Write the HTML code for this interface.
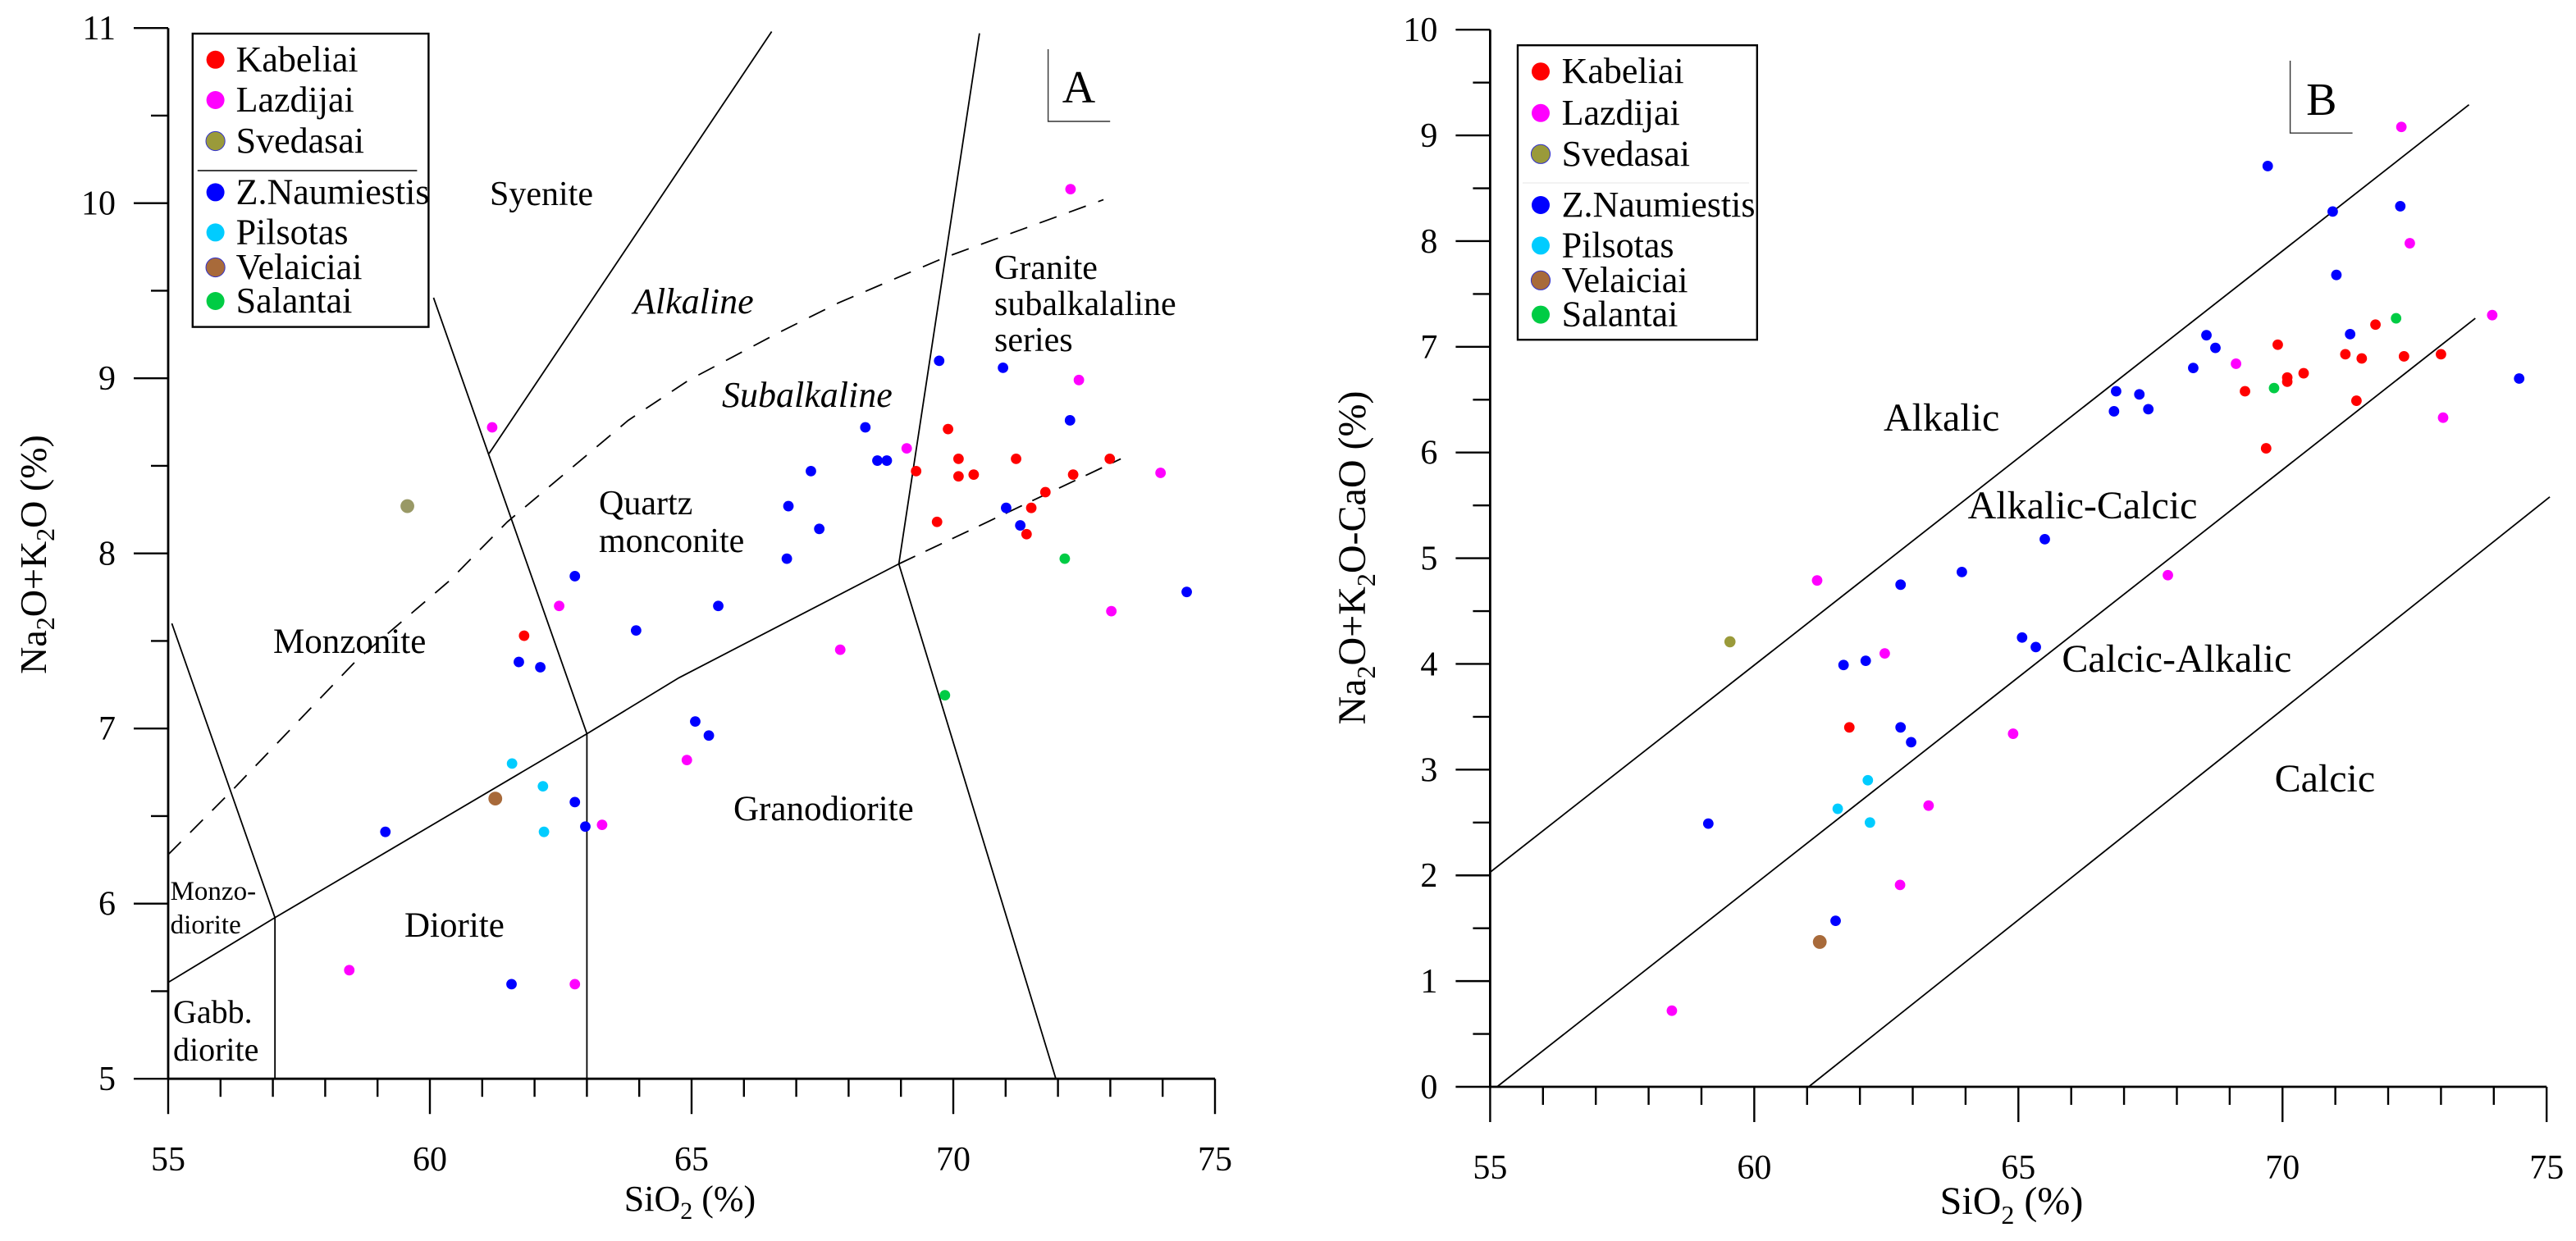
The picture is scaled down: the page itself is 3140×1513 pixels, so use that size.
<!DOCTYPE html>
<html><head><meta charset="utf-8"><style>
html,body{margin:0;padding:0;background:#fff;}
svg{display:block;font-family:"Liberation Serif","DejaVu Serif",serif;}
svg text{font-family:"Liberation Serif","DejaVu Serif",serif !important;fill:#000;}
</style></head><body>
<svg id="fig" xmlns="http://www.w3.org/2000/svg" width="3140" height="1513" viewBox="0 0 1570 756.5" font-family="Liberation Serif, DejaVu Serif, serif">
<rect width="1570" height="756.5" fill="#fff"/>
<g id="panelA"></g>
<g id="panelB"></g>
</svg>
<script>
// ---------- DATA: Panel A (SiO2 vs Na2O+K2O) ----------
const seriesNames = ["Kabeliai","Lazdijai","Svedasai","Z.Naumiestis","Pilsotas","Velaiciai","Salantai"];
const seriesColors = ["#ff0000","#ff00ff","#9a9a3a","#0000ff","#00ccff","#a86a3a","#00cc44"];
const aKabeliaiX = [69.90,70.10,69.29,70.10,70.39,71.20,72.99,72.29,71.76,71.49,71.40,69.69,61.80];
const aKabeliaiY = [8.71,8.54,8.47,8.44,8.45,8.54,8.54,8.45,8.35,8.26,8.11,8.18,7.53];
const aLazdijaiX = [72.24,72.40,69.11,73.96,61.19,62.47,64.91,63.29,58.46,62.77,67.84,73.02];
const aLazdijaiY = [10.08,8.99,8.60,8.46,8.72,7.70,6.82,6.45,5.62,5.54,7.45,7.67];
const aSvedasaiX = [59.57];
const aSvedasaiY = [8.27];
const aNaumX = [69.73,70.95,72.23,68.32,68.55,68.73,67.28,66.85,67.44,66.82,71.01,71.28,62.77,65.51,63.94,61.70,62.11,65.07,65.33,62.77,62.97,59.15,61.56,74.46];
const aNaumY = [9.10,9.06,8.76,8.72,8.53,8.53,8.47,8.27,8.14,7.97,8.26,8.16,7.87,7.70,7.56,7.38,7.35,7.04,6.96,6.58,6.44,6.41,5.54,7.78];
const aPilsotasX = [61.57,62.16,62.18];
const aPilsotasY = [6.80,6.67,6.41];
const aVelaiciaiX = [61.25];
const aVelaiciaiY = [6.60];
const aSalantaiX = [72.13,69.84];
const aSalantaiY = [7.97,7.19];
const aXTicks = [55,60,65,70,75];
const aYTicks = [5,6,7,8,9,10,11];

// ---------- DATA: Panel B (SiO2 vs Na2O+K2O-CaO) ----------
const bKabeliaiX = [71.76,71.19,71.50,72.30,73.00,69.91,70.40,70.09,70.09,69.29,71.40,69.69,61.80];
const bKabeliaiY = [7.21,6.93,6.89,6.91,6.93,7.02,6.75,6.71,6.67,6.58,6.49,6.04,3.40];
const bLazdijaiX = [72.25,72.41,73.97,69.12,73.04,67.83,61.19,62.47,63.30,62.76,58.44,64.90];
const bLazdijaiY = [9.08,7.98,7.30,6.84,6.33,4.84,4.79,4.10,2.66,1.91,0.72,3.34];
const bSvedasaiX = [59.54];
const bSvedasaiY = [4.21];
const bNaumX = [69.72,70.95,72.23,71.02,71.28,68.56,68.73,68.31,66.85,67.29,66.81,67.46,74.48,65.50,63.93,65.07,65.33,62.77,61.69,62.11,62.77,62.97,59.13,61.54];
const bNaumY = [8.71,8.28,8.33,7.68,7.12,7.11,6.99,6.80,6.58,6.55,6.39,6.41,6.70,5.18,4.87,4.25,4.16,4.75,3.99,4.03,3.40,3.26,2.49,1.57];
const bPilsotasX = [62.15,61.58,62.19];
const bPilsotasY = [2.90,2.63,2.50];
const bVelaiciaiX = [61.24];
const bVelaiciaiY = [1.37];
const bSalantaiX = [72.15,69.84];
const bSalantaiY = [7.27,6.61];
const bXTicks = [55,60,65,70,75];
const bYTicks = [0,1,2,3,4,5,6,7,8,9,10];

const NS = "http://www.w3.org/2000/svg";
const FONT = "Liberation Serif, DejaVu Serif, serif";
function mk(parent, tag, attrs, text){
  const e = document.createElementNS(NS, tag);
  for (const k in attrs) e.setAttribute(k, attrs[k]);
  if (tag === "text") e.setAttribute("font-family", FONT);
  if (text !== undefined) e.textContent = text;
  parent.appendChild(e);
  return e;
}

const axA = {x0:55,x1:75,px0:102.5,px1:740.5,y0:5,y1:11,py0:657.6,py1:17.1};
const axB = {x0:55,x1:75,px0:908.2,px1:1552.1,y0:0,y1:10,py0:662.5,py1:18.1};
function sx(ax,v){return ax.px0+(v-ax.x0)*(ax.px1-ax.px0)/(ax.x1-ax.x0);}
function sy(ax,v){return ax.py0+(v-ax.y0)*(ax.py1-ax.py0)/(ax.y1-ax.y0);}

function drawAxes(g, ax, xTicks, yTicks, minorYStep, minorXStep){
  let e;
  e = mk(g,"line",{x1:ax.px0,y1:ax.py0,x2:ax.px0,y2:ax.py1,stroke:"#000","stroke-width":1.4});
   
  e = mk(g,"line",{x1:ax.px0,y1:ax.py0,x2:ax.px1,y2:ax.py0,stroke:"#000","stroke-width":1.4});
   
  for (let v=ax.y0; v<=ax.y1+1e-6; v+=minorYStep){
    const y=sy(ax,v);
    const major = Math.abs(v-Math.round(v))<1e-6;
    const t = mk(g,"line",{x1:ax.px0-(major?21:10.5),y1:y,x2:ax.px0,y2:y,stroke:"#000","stroke-width":1.2});
     
  }
  yTicks.forEach(v=>{
    const t = mk(g,"text",{x:ax.px0-32,y:sy(ax,v)+7,"font-size":21,"text-anchor":"end"},String(v));
     
  });
  for (let v=ax.x0; v<=ax.x1+1e-6; v+=minorXStep){
    const x=sx(ax,v);
    const major = Math.abs(v/5-Math.round(v/5))<1e-6;
    const t = mk(g,"line",{x1:x,y1:ax.py0,x2:x,y2:ax.py0+(major?21.5:11),stroke:"#000","stroke-width":1.2});
     
  }
  xTicks.forEach(v=>{
    const t = mk(g,"text",{x:sx(ax,v),y:ax.py0+56,"font-size":21,"text-anchor":"middle"},String(v));
     
  });
}

function drawLine(g, ax, pts, name, dash, w){
  const d = pts.map((p,i)=>(i?"L":"M")+sx(ax,p[0]).toFixed(2)+","+sy(ax,p[1]).toFixed(2)).join(" ");
  const e = mk(g,"path",{d:d,fill:"none",stroke:"#000","stroke-width":w||0.9});
  if (dash) e.setAttribute("stroke-dasharray",dash);
  
  
}

function drawPoints(g, ax, xs, ys, color, r, name){
  for (let i=0;i<xs.length;i++){
    const c = mk(g,"circle",{cx:sx(ax,xs[i]),cy:sy(ax,ys[i]),r:r,fill:color});
    
    
  }
}

function drawLegend(g, box, dotX, textX, ys, sep, sepColor){
  const r = mk(g,"rect",{x:box[0],y:box[1],width:box[2]-box[0],height:box[3]-box[1],fill:"#fff",stroke:"#000","stroke-width":1.2});
   
  const s = mk(g,"line",{x1:sep[0],y1:sep[2],x2:sep[1],y2:sep[2],stroke:sepColor,"stroke-width":0.8});
   
  seriesNames.forEach((n,i)=>{
    const big = (i===2||i===5);
    const c = mk(g,"circle",{cx:dotX,cy:ys[i],r:big?5.8:5.5,fill:seriesColors[i]});
    if (big){c.setAttribute("stroke","#3333cc");c.setAttribute("stroke-width","0.5");}
    
    
    const t = mk(g,"text",{x:textX,y:ys[i]+7,"font-size":22},n);
    
    
  });
}

function label(g, x, y, str, size, name, extra){
  const t = mk(g,"text",Object.assign({x:x,y:y,"font-size":size},extra||{}),str);
  
  
  return t;
}

// ---------- Panel A ----------
const gA = document.getElementById("panelA");
drawAxes(gA, axA, aXTicks, aYTicks, 0.5, 1);
drawLine(gA, axA, [[55.07,7.60],[57.04,5.92]], "boundary-monzodiorite");
drawLine(gA, axA, [[57.04,5.92],[57.04,5.0]], "boundary-gabbro-diorite");
drawLine(gA, axA, [[55,5.55],[57.04,5.92],[63,6.97],[64.76,7.29],[68.96,7.94]], "boundary-lower");
drawLine(gA, axA, [[68.96,7.94],[73.2,8.54]], "boundary-lower-dashed", "11,7");
drawLine(gA, axA, [[63,6.97],[63,5.0]], "boundary-diorite-granodiorite");
drawLine(gA, axA, [[60.07,9.46],[63,6.97]], "boundary-monzonite");
drawLine(gA, axA, [[61.13,8.57],[66.53,10.98]], "boundary-syenite");
drawLine(gA, axA, [[68.96,7.94],[70.50,10.97]], "boundary-granite-upper");
drawLine(gA, axA, [[68.96,7.94],[71.96,5.0]], "boundary-granite-lower");
drawLine(gA, axA, [[55,6.28],[56.2,6.64],[58.6,7.39],[60.36,7.84],[61.48,8.18],[63.79,8.76],[64.95,8.99],[66.66,9.26],[67.8,9.43],[69.84,9.69],[72.87,10.02]], "alkaline-subalkaline-divider", "11,8", 0.9);

label(gA,298.5,125,"Syenite",21,"region-syenite");
label(gA,386,191,"Alkaline",22,"region-alkaline",{"font-style":"italic"});
label(gA,440,248,"Subalkaline",22,"region-subalkaline",{"font-style":"italic"});
label(gA,606,170,"Granite",21,"region-granite");
label(gA,606,192,"subalkalaline",21,"region-granite-line2");
label(gA,606,214,"series",21,"region-granite-line3");
label(gA,365,313.5,"Quartz",21,"region-quartz");
label(gA,365,336.5,"monconite",21,"region-quartz-line2");
label(gA,166.5,398,"Monzonite",21.5,"region-monzonite");
label(gA,103.8,548.5,"Monzo-",16.5,"region-monzodiorite");
label(gA,103.8,569,"diorite",16.5,"region-monzodiorite-line2");
label(gA,105.5,623.5,"Gabb.",20,"region-gabbro");
label(gA,105.5,646.5,"diorite",20,"region-gabbro-line2");
label(gA,246.5,571,"Diorite",21.5,"region-diorite");
label(gA,447,500,"Granodiorite",21.5,"region-granodiorite");
let e;
e = mk(gA,"path",{d:"M638.8,30 L638.8,74 L676.6,74",fill:"none",stroke:"#333","stroke-width":0.7});
 
label(gA,657.5,62.5,"A",28,"panel-label-a",{"text-anchor":"middle"});
const xtA = label(gA,420.5,738,"",22,"x-axis-title",{"text-anchor":"middle"});
xtA.innerHTML = 'SiO<tspan font-size="15" dy="5">2</tspan><tspan dy="-5"> (%)</tspan>';
const ytA = label(gA,0,0,"",23,"y-axis-title",{"text-anchor":"middle",transform:"translate(28,338) rotate(-90)"});
ytA.innerHTML = 'Na<tspan font-size="16" dy="5">2</tspan><tspan dy="-5">O+K</tspan><tspan font-size="16" dy="5">2</tspan><tspan dy="-5">O (%)</tspan>';

drawPoints(gA, axA, aKabeliaiX, aKabeliaiY, seriesColors[0], 3.2, "point-kabeliai");
drawPoints(gA, axA, aLazdijaiX, aLazdijaiY, seriesColors[1], 3.2, "point-lazdijai");
drawPoints(gA, axA, aSvedasaiX, aSvedasaiY, "#999966", 4.2, "point-svedasai");
drawPoints(gA, axA, aNaumX, aNaumY, seriesColors[3], 3.2, "point-z-naumiestis");
drawPoints(gA, axA, aPilsotasX, aPilsotasY, seriesColors[4], 3.2, "point-pilsotas");
drawPoints(gA, axA, aVelaiciaiX, aVelaiciaiY, seriesColors[5], 4.2, "point-velaiciai");
drawPoints(gA, axA, aSalantaiX, aSalantaiY, seriesColors[6], 3.2, "point-salantai");
drawLegend(gA,[117.4,20.5,261.2,199.3],131.3,143.8,[36.4,61,86,117.2,141.7,163,183.5],[120.4,254.2,104],"#000");

// ---------- Panel B ----------
const gB = document.getElementById("panelB");
drawAxes(gB, axB, bXTicks, bYTicks, 0.5, 1);
drawLine(gB, axB, [[55,2.03],[73.53,9.29]], "boundary-alkalic");
drawLine(gB, axB, [[55.13,0],[73.65,7.27]], "boundary-alkalic-calcic");
drawLine(gB, axB, [[61.03,0],[75.06,5.58]], "boundary-calcic-alkalic");
label(gB,1148,262.5,"Alkalic",24,"region-alkalic");
label(gB,1199.3,316,"Alkalic-Calcic",24,"region-alkalic-calcic");
label(gB,1256.7,409.5,"Calcic-Alkalic",24,"region-calcic-alkalic");
label(gB,1386.3,482.5,"Calcic",24,"region-calcic");
e = mk(gB,"path",{d:"M1395.8,37 L1395.8,81.1 L1433.8,81.1",fill:"none",stroke:"#333","stroke-width":0.7});
 
label(gB,1414.9,70,"B",28,"panel-label-b",{"text-anchor":"middle"});
const xtB = label(gB,1226,740,"",24,"x-axis-title",{"text-anchor":"middle"});
xtB.innerHTML = 'SiO<tspan font-size="16" dy="6">2</tspan><tspan dy="-6"> (%)</tspan>';
const ytB = label(gB,0,0,"",24,"y-axis-title",{"text-anchor":"middle",transform:"translate(832,340) rotate(-90)"});
ytB.innerHTML = 'Na<tspan font-size="16" dy="6">2</tspan><tspan dy="-6">O+K</tspan><tspan font-size="16" dy="6">2</tspan><tspan dy="-6">O-CaO (%)</tspan>';

drawPoints(gB, axB, bKabeliaiX, bKabeliaiY, seriesColors[0], 3.2, "point-kabeliai");
drawPoints(gB, axB, bLazdijaiX, bLazdijaiY, seriesColors[1], 3.2, "point-lazdijai");
drawPoints(gB, axB, bSvedasaiX, bSvedasaiY, seriesColors[2], 3.4, "point-svedasai");
drawPoints(gB, axB, bNaumX, bNaumY, seriesColors[3], 3.2, "point-z-naumiestis");
drawPoints(gB, axB, bPilsotasX, bPilsotasY, seriesColors[4], 3.2, "point-pilsotas");
drawPoints(gB, axB, bVelaiciaiX, bVelaiciaiY, seriesColors[5], 4.2, "point-velaiciai");
drawPoints(gB, axB, bSalantaiX, bSalantaiY, seriesColors[6], 3.2, "point-salantai");
drawLegend(gB,[925,27.6,1070.9,207.1],939,951.8,[43.6,68.9,93.9,125,149.7,170.9,191.8],[928,1066,111.5],"#eeeeee");
</script>
</body></html>
